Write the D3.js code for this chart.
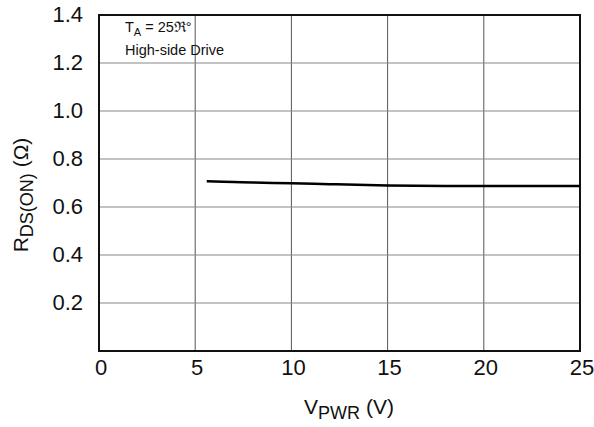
<!DOCTYPE html>
<html>
<head>
<meta charset="utf-8">
<script src="https://cdn.jsdelivr.net/npm/d3@7"></script>
<style>
  body { margin: 0; background: #fff; }
  text { font-family: "Liberation Sans", Arial, sans-serif; fill: #111; }
</style>
</head>
<body>
<div id="chart"></div>
<script>
// data
const vpwr = [5.6, 7, 8, 10, 12, 15, 18, 20, 22, 25];
const rdson = [0.707, 0.704, 0.702, 0.699, 0.695, 0.690, 0.688, 0.688, 0.687, 0.687];
const xTicks = [0, 5, 10, 15, 20, 25];
const yTicks = [0.2, 0.4, 0.6, 0.8, 1.0, 1.2, 1.4];

const width = 594, height = 427;
const margin = { top: 15, right: 14, bottom: 76, left: 99 };

const svg = d3.select('#chart')
  .append('svg')
  .attr('width', width)
  .attr('height', height);

const x = d3.scaleLinear().domain([0, 25]).range([margin.left, width - margin.right]);
const y = d3.scaleLinear().domain([0, 1.4]).range([height - margin.bottom, margin.top]);

// grid
svg.append('g')
  .selectAll('line')
  .data(xTicks.slice(1, -1))
  .enter().append('line')
  .attr('x1', d => x(d)).attr('x2', d => x(d))
  .attr('y1', y(0)).attr('y2', y(1.4))
  .attr('stroke', '#555').attr('stroke-width', 1);

svg.append('g')
  .selectAll('line')
  .data(yTicks.slice(0, -1))
  .enter().append('line')
  .attr('x1', x(0)).attr('x2', x(25))
  .attr('y1', d => y(d)).attr('y2', d => y(d))
  .attr('stroke', '#888').attr('stroke-width', 1.2);

// frame
svg.append('rect')
  .attr('x', x(0)).attr('y', y(1.4))
  .attr('width', x(25) - x(0)).attr('height', y(0) - y(1.4))
  .attr('fill', 'none').attr('stroke', '#111').attr('stroke-width', 2);

// tick labels
svg.append('g')
  .selectAll('text')
  .data(xTicks)
  .enter().append('text')
  .attr('x', d => x(d) + 2)
  .attr('y', y(0) + 24)
  .attr('text-anchor', 'middle')
  .style('font-size', '22px')
  .text(d => d);

svg.append('g')
  .selectAll('text')
  .data(yTicks)
  .enter().append('text')
  .attr('x', x(0) - 16)
  .attr('y', d => y(d) + 7)
  .attr('text-anchor', 'end')
  .style('font-size', '22px')
  .text(d => d.toFixed(1));

// axis titles
const xt = svg.append('text')
  .attr('x', 349).attr('y', 414)
  .attr('text-anchor', 'middle')
  .style('font-size', '21px');
xt.append('tspan').text('V');
xt.append('tspan').attr('dy', 5).style('font-size', '18px').text('PWR');
xt.append('tspan').attr('dy', -5).text(' (V)');

const yt = svg.append('text')
  .attr('transform', 'translate(28,195) rotate(-90)')
  .attr('text-anchor', 'middle')
  .style('font-size', '21px');
yt.append('tspan').text('R');
yt.append('tspan').attr('dy', 5).style('font-size', '18px').text('DS(ON)');
yt.append('tspan').attr('dy', -5).text(' (Ω)');

// annotations
const a1 = svg.append('text')
  .attr('x', 125).attr('y', 32)
  .style('font-size', '14.5px');
a1.append('tspan').text('T');
a1.append('tspan').attr('dy', 4).style('font-size', '11px').text('A');
a1.append('tspan').attr('dy', -4).text(' = 25ℜ°');

svg.append('text')
  .attr('x', 125).attr('y', 55)
  .style('font-size', '14.5px')
  .text('High-side Drive');

// curve
const line = d3.line()
  .x((d, i) => x(vpwr[i]))
  .y(d => y(d))
  .curve(d3.curveMonotoneX);

svg.append('path')
  .datum(rdson)
  .attr('d', line)
  .attr('fill', 'none')
  .attr('stroke', '#000')
  .attr('stroke-width', 2.5);
</script>
</body>
</html>
